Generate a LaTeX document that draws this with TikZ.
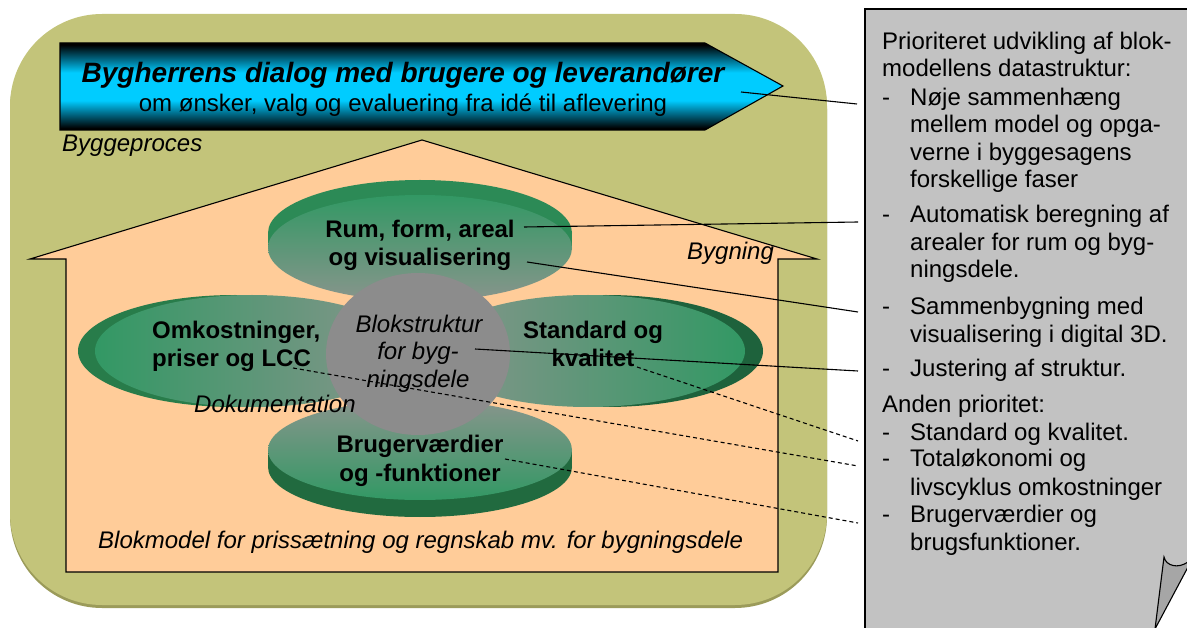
\documentclass[tikz,border=0pt]{standalone}
\usepackage{fontspec}
\setmainfont{Liberation Sans}
\definecolor{olivebg}{RGB}{195,196,122}
\definecolor{oliveshadow}{RGB}{155,155,90}
\definecolor{peach}{RGB}{255,204,153}
\definecolor{bcyan}{RGB}{0,204,255}
\definecolor{bteal}{RGB}{0,100,128}
\definecolor{facegreen}{RGB}{50,152,100}
\definecolor{facegray}{RGB}{136,149,140}
\definecolor{rimtop}{RGB}{44,138,86}
\definecolor{rimleft}{RGB}{40,124,74}
\definecolor{rimright}{RGB}{30,98,60}
\definecolor{rimbottom}{RGB}{33,106,63}
\definecolor{hubgray}{RGB}{140,140,140}
\definecolor{notegray}{RGB}{194,194,194}
\definecolor{curlgray}{RGB}{166,166,166}
\pgfdeclareverticalshading{bannershade}{100bp}{color(0bp)=(black); color(26bp)=(black); color(34bp)=(bteal); color(42bp)=(bcyan); color(58bp)=(bcyan); color(66bp)=(bteal); color(74bp)=(black); color(100bp)=(black)}
\begin{document}
\begin{tikzpicture}[x=1pt,y=-1pt,
  txt/.style={inner sep=0pt, font=\fontsize{24}{27.6}\selectfont},
  txtit/.style={inner sep=0pt, font=\fontsize{24}{27.6}\selectfont\itshape},
  txtbf/.style={inner sep=0pt, font=\fontsize{24}{27.6}\selectfont\bfseries},
  titlefont/.style={inner sep=0pt, font=\fontsize{28}{32}\selectfont\bfseries\itshape},
  link/.style={draw=black, line width=1.1pt},
  dashlink/.style={draw=black, line width=1.1pt, dash pattern=on 4pt off 3pt},
  outline/.style={draw=black, line width=1.1pt}]
\useasboundingbox (0,0) rectangle (1187,628);

% process frame
\fill[oliveshadow, rounded corners=92pt] (10,17) rectangle (827,608);
\fill[olivebg, rounded corners=92pt] (10,14) rectangle (827,605);

% dialogue banner
\shade[shading=bannershade, outline] (60,43) -- (705,43) -- (783,86) -- (705,130) -- (60,130) -- cycle;
\node[titlefont, anchor=base] (title) at (403,83) {Bygherrens dialog med brugere og leverandører};
\node[txt, anchor=base] (subtitle) at (403,112) {om ønsker, valg og evaluering fra idé til aflevering};
\node[txtit, anchor=base west] (proc) at (62,152) {Byggeproces};

% building outline
\filldraw[fill=peach, outline] (30,259) -- (422,140) -- (817,259) -- (778,259) -- (778,572) -- (66,572) -- (66,259) -- cycle;

% top disk (side towards the top)
\fill[rimtop] (420,233) ellipse [x radius=152, y radius=53];
\fill[rimtop] (268,233) rectangle (572,248);
\shade[top color=facegreen, bottom color=facegray] (420,248) ellipse [x radius=152, y radius=53];

% left disk (side towards the left)
\fill[rimleft] (235,351) ellipse [x radius=157, y radius=56];
\fill[rimleft] (235,295) rectangle (252,407);
\shade[left color=facegreen, right color=facegray] (252,351) ellipse [x radius=157, y radius=56];

% right disk (side towards the right)
\fill[rimright] (606,351) ellipse [x radius=157, y radius=56];
\fill[rimright] (588,295) rectangle (606,407);
\shade[left color=facegray, right color=facegreen] (588,351) ellipse [x radius=157, y radius=56];

% bottom disk (side towards the bottom)
\fill[rimbottom] (420,467) ellipse [x radius=152, y radius=50];
\fill[rimbottom] (268,450) rectangle (572,467);
\shade[top color=facegray, bottom color=facegreen] (420,450) ellipse [x radius=152, y radius=50];

% hub
\fill[hubgray] (418,354) ellipse [x radius=92, y radius=81];

% disk labels
\node[txtbf, anchor=base] (rum1) at (420,238) {Rum, form, areal};
\node[txtbf, anchor=base] (rum2) at (420,266) {og visualisering};
\node[txtbf, anchor=base west] (omk1) at (152,339) {Omkostninger,};
\node[txtbf, anchor=base west] (omk2) at (152,367) {priser og LCC};
\node[txtbf, anchor=base] (std1) at (593,339) {Standard og};
\node[txtbf, anchor=base] (std2) at (593,367) {kvalitet};
\node[txtbf, anchor=base] (bru1) at (420,453) {Brugerværdier};
\node[txtbf, anchor=base] (bru2) at (420,482) {og -funktioner};
\node[txtit, anchor=base] (hub1) at (419,333) {Blokstruktur};
\node[txtit, anchor=base] (hub2) at (418,360) {for byg-};
\node[txtit, anchor=base] (hub3) at (418,388) {ningsdele};

% building captions
\node[txtit, anchor=base west] (bygning) at (687,260) {Bygning};
\node[txtit, anchor=base west] (dok) at (194,413) {Dokumentation};
\node[txtit, anchor=base west] (blokmodel) at (98,548) {Blokmodel for prissætning og regnskab mv. for bygningsdele};

% note sheet with curled corner
\fill[notegray] (865,9) -- (1188,9) -- (1188,562) .. controls (1178,569) and (1166,566) .. (1164,557) -- (1155,629) -- (865,629) -- cycle;
\draw[outline] (1188,9) -- (865,9) -- (865,629);
\filldraw[fill=curlgray, outline] (1164,557) .. controls (1166,566) and (1178,569) .. (1188,562) -- (1188,567) -- (1155,629) -- cycle;

\node[txt, anchor=base west] (n1) at (882,50) {Prioriteret udvikling af blok-};
\node[txt, anchor=base west] (n2) at (882,77) {modellens datastruktur:};
\node[txt, anchor=base west] (d1) at (882,106) {-};
\node[txt, anchor=base west] (n3) at (910,106) {Nøje sammenhæng};
\node[txt, anchor=base west] (n4) at (910,133) {mellem model og opga-};
\node[txt, anchor=base west] (n5) at (910,161) {verne i byggesagens};
\node[txt, anchor=base west] (n6) at (910,188) {forskellige faser};
\node[txt, anchor=base west] (d2) at (882,223) {-};
\node[txt, anchor=base west] (n7) at (910,223) {Automatisk beregning af};
\node[txt, anchor=base west] (n8) at (910,251) {arealer for rum og byg-};
\node[txt, anchor=base west] (n9) at (910,278) {ningsdele.};
\node[txt, anchor=base west] (d3) at (882,315) {-};
\node[txt, anchor=base west] (n10) at (910,315) {Sammenbygning med};
\node[txt, anchor=base west] (n11) at (910,343) {visualisering i digital 3D.};
\node[txt, anchor=base west] (d4) at (882,377) {-};
\node[txt, anchor=base west] (n12) at (910,377) {Justering af struktur.};
\node[txt, anchor=base west] (n13) at (882,413) {Anden prioritet:};
\node[txt, anchor=base west] (d5) at (882,440) {-};
\node[txt, anchor=base west] (n14) at (910,440) {Standard og kvalitet.};
\node[txt, anchor=base west] (d6) at (882,467) {-};
\node[txt, anchor=base west] (n15) at (910,467) {Totaløkonomi og};
\node[txt, anchor=base west] (n16) at (910,495) {livscyklus omkostninger};
\node[txt, anchor=base west] (d7) at (882,522) {-};
\node[txt, anchor=base west] (n17) at (910,522) {Brugerværdier og};
\node[txt, anchor=base west] (n18) at (910,550) {brugsfunktioner.};

% connector anchors
\coordinate (sBanner) at (741,92);
\coordinate (sAreal) at (524,227);
\coordinate (sVisual) at (527,262);
\coordinate (sHub) at (475,349);
\coordinate (sKval) at (637,367);
\coordinate (sLCC) at (293,368);
\coordinate (sBrug) at (505,459);
\coordinate (eBanner) at (857,104);
\coordinate (eAreal) at (858,222);
\coordinate (eVisual) at (858,312);
\coordinate (eHub) at (858,371);
\coordinate (eKval) at (858,441);
\coordinate (eLCC) at (858,466);
\coordinate (eBrug) at (858,523);

\draw[link] (sBanner) -- (eBanner);
\draw[link] (sAreal) -- (eAreal);
\draw[link] (sVisual) -- (eVisual);
\draw[link] (sHub) -- (eHub);
\draw[dashlink] (sKval) -- (eKval);
\draw[dashlink] (sLCC) -- (eLCC);
\draw[dashlink] (sBrug) -- (eBrug);
\end{tikzpicture}
\end{document}
